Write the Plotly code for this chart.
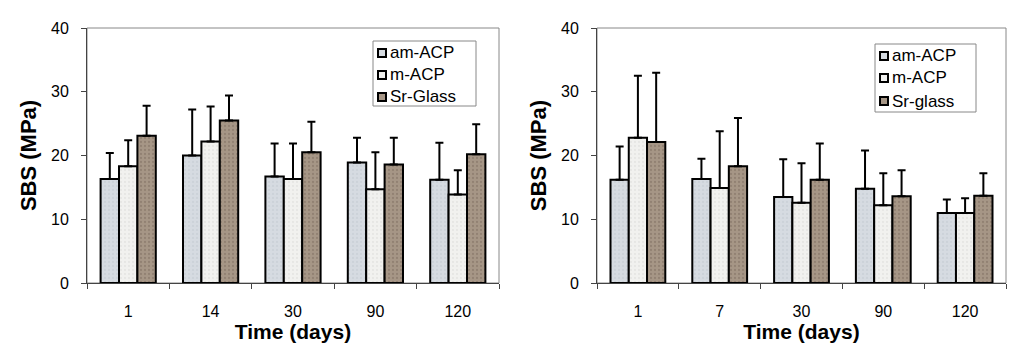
import plotly.graph_objects as go

days_left = ["1", "14", "30", "90", "120"]
days_right = ["1", "7", "30", "90", "120"]
series_left = ["am-ACP", "m-ACP", "Sr-Glass"]
series_right = ["am-ACP", "m-ACP", "Sr-glass"]

left_am = [16.3, 20.0, 16.7, 18.9, 16.2]
left_am_err = [4.1, 7.2, 5.2, 3.9, 5.8]
left_m = [18.3, 22.2, 16.3, 14.7, 13.9]
left_m_err = [4.1, 5.5, 5.6, 5.8, 3.8]
left_sr = [23.1, 25.5, 20.5, 18.6, 20.2]
left_sr_err = [4.7, 3.9, 4.8, 4.2, 4.7]

right_am = [16.2, 16.3, 13.5, 14.8, 11.0]
right_am_err = [5.2, 3.2, 5.9, 6.0, 2.1]
right_m = [22.8, 14.9, 12.6, 12.2, 11.0]
right_m_err = [9.7, 8.9, 6.2, 5.0, 2.3]
right_sr = [22.1, 18.3, 16.2, 13.6, 13.7]
right_sr_err = [10.9, 7.6, 5.7, 4.1, 3.5]

fills = ["#d6dbe1", "#f1f1ef", "#a69686"]
pat_fg = ["#c2c7cf", "#dcdcd8", "#7b6c5f"]

W, H = 1024, 350
OFF = 8  # page body margin offset


def px(x):
    return (x - OFF) / W


def py(y):
    return 1 - (y - OFF) / H


fig = go.Figure()


def add_bars(cats, vals, errs, names, xa, ya):
    for i in range(3):
        fig.add_trace(go.Bar(
            x=cats, y=vals[i], name=names[i],
            xaxis=xa, yaxis=ya, showlegend=False,
            marker=dict(color=fills[i], line=dict(color="black", width=2),
                        pattern=dict(shape=".", fgcolor=pat_fg[i], size=4, solidity=0.25)),
            error_y=dict(type="data", array=errs[i], symmetric=False, arrayminus=[0] * len(cats),
                         color="black", thickness=2, width=4),
        ))


add_bars(days_left, [left_am, left_m, left_sr], [left_am_err, left_m_err, left_sr_err],
         series_left, "x", "y")
add_bars(days_right, [right_am, right_m, right_sr], [right_am_err, right_m_err, right_sr_err],
         series_right, "x2", "y2")

ydom = [py(283), py(28)]
font = "Liberation Sans, Arial, sans-serif"
xcommon = dict(type="category", ticks="outside", tickson="boundaries", ticklen=5,
               tickcolor="#444", showline=True, linecolor="#444", linewidth=1,
               mirror=False, automargin=False, ticklabelstandoff=14,
               tickfont=dict(size=16, color="black", family=font),
               title=dict(text="<b>Time (days)</b>", font=dict(size=21, color="black", family=font), standoff=0),
               showgrid=False)
ycommon = dict(range=[0, 40], dtick=10, ticks="outside", ticklen=5, tickcolor="#444",
               showline=True, linecolor="#444", linewidth=1, showgrid=False, zeroline=False,
               automargin=False, ticklabelstandoff=9,
               tickfont=dict(size=16, color="black", family=font),
               title=dict(text="<b>SBS (MPa)</b>", font=dict(size=22, color="black", family=font), standoff=8))

fig.update_layout(
    width=W, height=H,
    margin=dict(l=0, r=0, t=0, b=0, autoexpand=False),
    paper_bgcolor="white", plot_bgcolor="white",
    barmode="group", bargap=0.33, bargroupgap=0,
    showlegend=False,
    xaxis=dict(domain=[px(87), px(499)], anchor="y", **xcommon),
    yaxis=dict(domain=ydom, anchor="x", **ycommon),
    xaxis2=dict(domain=[px(597), px(1006)], anchor="y2", **xcommon),
    yaxis2=dict(domain=ydom, anchor="x2", **ycommon),
)

# gray frame around plot areas
for (x0, x1) in [(87, 499), (597, 1006)]:
    fig.add_shape(type="rect", xref="paper", yref="paper",
                  x0=px(x0), x1=px(x1), y0=ydom[0], y1=ydom[1],
                  line=dict(color="#888", width=1), layer="below")


# manual legends (box, square swatches, labels)
def add_legend(names, box, sq_x, rows):
    bx0, by0, bx1, by1 = box
    fig.add_shape(type="rect", xref="paper", yref="paper",
                  x0=px(bx0), x1=px(bx1), y0=py(by1), y1=py(by0),
                  line=dict(color="#888", width=1), fillcolor="white", layer="above")
    for i, name in enumerate(names):
        yc = rows[i]
        fig.add_shape(type="rect", xref="paper", yref="paper",
                      x0=px(sq_x), x1=px(sq_x + 8), y0=py(yc + 4), y1=py(yc - 4),
                      line=dict(color="black", width=2), fillcolor=fills[i], layer="above")
        fig.add_annotation(x=px(sq_x + 10), y=py(yc), xref="paper", yref="paper",
                           text=name, showarrow=False, xanchor="left", yanchor="middle",
                           font=dict(size=17, color="black", family=font))


add_legend(series_left, (373, 41, 476, 106), 378, [53, 75, 97])
add_legend(series_right, (875, 44, 976, 112), 880, [56, 78, 101])

fig.write_html("out.html")
